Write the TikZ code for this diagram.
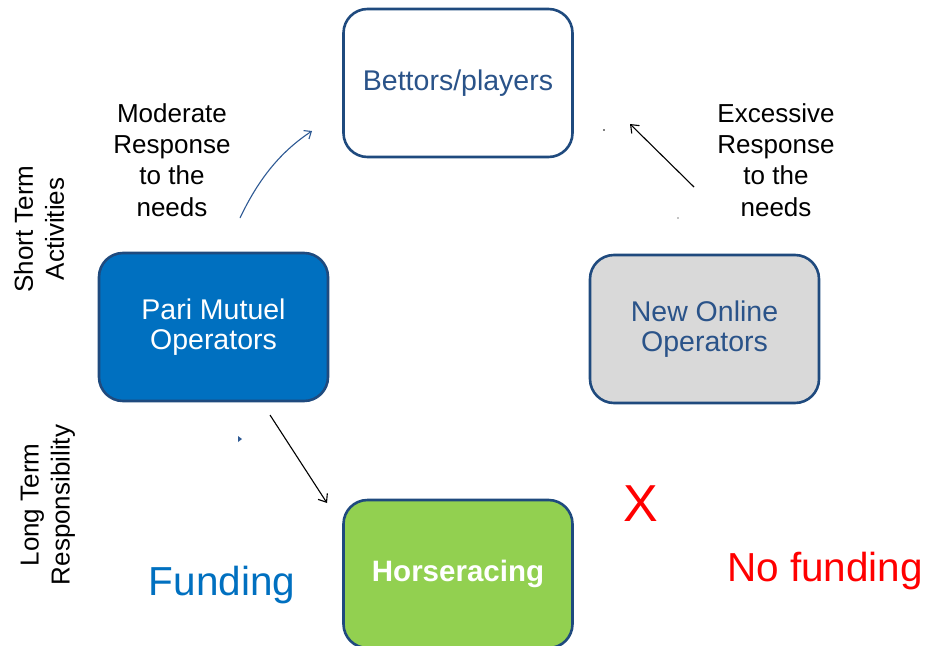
\documentclass[tikz,border=0pt]{standalone}
\usepackage{fontspec}
\setmainfont{Liberation Sans}
\usetikzlibrary{arrows.meta}
\definecolor{bordblue}{HTML}{1F4A7E}
\definecolor{txtblue}{HTML}{2A5389}
\definecolor{pariblue}{HTML}{0070C0}
\definecolor{lightgray}{HTML}{D9D9D9}
\definecolor{hgreen}{HTML}{92D050}
\definecolor{arrblue}{HTML}{2F5A94}
\tikzset{
  box/.style={draw=bordblue, line width=2.6pt, rounded corners=24pt,
    minimum width=229pt, minimum height=148pt, align=center,
    font=\fontsize{28.5}{30.5}\selectfont},
  lbl/.style={align=center, font=\fontsize{26}{31.2}\selectfont, text=black},
  side/.style={align=center, font=\fontsize{26}{31}\selectfont, rotate=90},
  blk/.style={draw=black, line width=1.1pt, -{Straight Barb[length=7pt,width=11pt,line width=1.1pt]}},
}
\begin{document}
\begin{tikzpicture}[x=1pt,y=-1pt]
\clip (0,0) rectangle (926,645);
\fill[white] (0,0) rectangle (926,645);
\node[box, text=txtblue] (bet) at (458,83) {Bettors/players};
\node[box, fill=pariblue, text=white] (pari) at (213.5,327) {Pari Mutuel\\Operators};
\node[box, fill=lightgray, text=txtblue] (online) at (704.5,329) {New Online\\Operators};
\node[box, fill=hgreen, text=white, font=\fontsize{29.5}{31}\selectfont\bfseries] (horse) at (458,574) {Horseracing};
\node[lbl] (mod) at (172,160) {Moderate\\Response\\to the\\needs};
\node[lbl] (exc) at (776,160) {Excessive\\Response\\to the\\needs};
\node[side] (short) at (39,229) {Short Term\\Activities};
\node[side] (long) at (48,505) {Long Term\\Responsibility};
\node[font=\fontsize{40.5}{42}\selectfont, text=pariblue] (fund) at (222,585) {Funding};
\node[font=\fontsize{40.5}{42}\selectfont, text=red] (nofund) at (825,571) {No funding};
\node[font=\fontsize{52}{54}\selectfont, text=red] (x) at (641,504) {X};
\coordinate (c1s) at (240,218);
\coordinate (c1e) at (312,131);
\coordinate (c2s) at (694,187);
\coordinate (c2e) at (630,124);
\coordinate (c3s) at (270,415);
\coordinate (c3e) at (327,503);
\draw[arrblue, line width=1.1pt, -{Straight Barb[length=6pt,width=10pt,line width=1.1pt]}]
  (c1s) .. controls (258,180) and (280,152) .. (c1e);
\draw[blk] (c2s) -- (c2e);
\draw[blk] (c3s) -- (c3e);
\fill[arrblue] (238,436) -- (242,439) -- (238,442) -- cycle;
\fill[black] (604,130) circle (0.8pt);
\fill[black] (678,218) circle (0.6pt);
\end{tikzpicture}
\end{document}
